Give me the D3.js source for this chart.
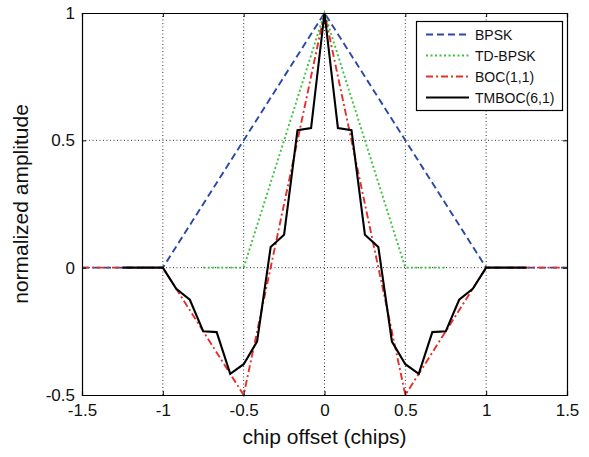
<!DOCTYPE html>
<html><head><meta charset="utf-8">
<script src="https://cdn.jsdelivr.net/npm/d3@7"></script>
<style>body{margin:0;background:#fff}svg{display:block}text{font-family:"Liberation Sans",Arial,sans-serif}</style>
</head><body><svg id="c" width="589" height="457"></svg>
<script>
const xTicks = [-1.5, -1, -0.5, 0, 0.5, 1, 1.5];
const yTicks = [-0.5, 0, 0.5, 1];
const seriesNames = ["BPSK", "TD-BPSK", "BOC(1,1)", "TMBOC(6,1)"];
const bpskX = [-1.5, -1, 0, 1, 1.5];
const bpskY = [0, 0, 1, 0, 0];
const tdX = [-0.75, -0.5, 0, 0.5, 0.75];
const tdY = [0, 0, 1, 0, 0];
const bocX = [-1.5, -1, -0.5, 0, 0.5, 1, 1.5];
const bocY = [0, 0, -0.5, 1, -0.5, 0, 0];
const tmX = [-1.25, -1, -0.917, -0.833, -0.75, -0.667, -0.583, -0.5, -0.417, -0.333, -0.25, -0.167, -0.083, 0,
             0.083, 0.167, 0.25, 0.333, 0.417, 0.5, 0.583, 0.667, 0.75, 0.833, 0.917, 1, 1.25];
const tmY = [0, 0, -0.083, -0.126, -0.25, -0.253, -0.417, -0.379, -0.29, 0.081, 0.129, 0.54, 0.548, 1,
             0.548, 0.54, 0.129, 0.081, -0.29, -0.379, -0.417, -0.253, -0.25, -0.126, -0.083, 0, 0];

const W = 589, H = 457, m = {l: 82, t: 13, r: 22, b: 62};
const svg = d3.select("#c");
const x = d3.scaleLinear().domain([-1.5, 1.5]).range([m.l, W - m.r]);
const y = d3.scaleLinear().domain([-0.5, 1]).range([H - m.b, m.t]);
const g = svg.append("g");
const fmt = d => String(d);

// grid
g.append("g").selectAll("line").data(xTicks.slice(1, -1)).join("line")
  .attr("x1", d => x(d)).attr("x2", d => x(d)).attr("y1", y(-0.5)).attr("y2", y(1))
  .attr("stroke", "#333").attr("stroke-width", 1).attr("stroke-dasharray", "1,2.5");
g.append("g").selectAll("line").data(yTicks.slice(1, -1)).join("line")
  .attr("y1", d => y(d)).attr("y2", d => y(d)).attr("x1", x(-1.5)).attr("x2", x(1.5))
  .attr("stroke", "#333").attr("stroke-width", 1).attr("stroke-dasharray", "1,2.5");

const line = d3.line().x(d => x(d[0])).y(d => y(d[1]));
const zip = (a, b) => a.map((v, i) => [v, b[i]]);
const series = [
  {pts: zip(bpskX, bpskY), color: "#2a48a6", dash: "7,4", w: 1.9},
  {pts: zip(tdX, tdY), color: "#3cc23c", dash: "2,2.5", w: 1.9},
  {pts: zip(bocX, bocY), color: "#e3302a", dash: "7,3,2,3", w: 1.9},
  {pts: zip(tmX, tmY), color: "#000", dash: null, w: 2.1}
];
series.forEach(s => {
  g.append("path").attr("d", line(s.pts)).attr("fill", "none")
    .attr("stroke", s.color).attr("stroke-width", s.w)
    .attr("stroke-dasharray", s.dash).attr("stroke-linejoin", "miter");
});

// axes
g.append("g").attr("transform", `translate(0,${y(-0.5)})`)
  .call(d3.axisBottom(x).tickValues(xTicks).tickSize(-4).tickPadding(9).tickFormat(fmt));
g.append("g").attr("transform", `translate(${x(-1.5)},0)`)
  .call(d3.axisLeft(y).tickValues(yTicks).tickSize(-4).tickPadding(7).tickFormat(fmt));
g.append("g").attr("transform", `translate(0,${y(1)})`)
  .call(d3.axisTop(x).tickValues(xTicks).tickSize(-4).tickFormat(""));
g.append("g").attr("transform", `translate(${x(1.5)},0)`)
  .call(d3.axisRight(y).tickValues(yTicks).tickSize(-4).tickFormat(""));
g.selectAll(".domain").attr("stroke", "#000").attr("stroke-width", 1.2);
g.selectAll(".tick line").attr("stroke", "#000");
g.selectAll(".tick text").attr("font-size", 17).attr("fill", "#111")
  .style("font-family", '"Liberation Sans",Arial,sans-serif');

svg.append("text").attr("x", x(0)).attr("y", 444).attr("text-anchor", "middle")
  .attr("font-size", 21).attr("fill", "#111").text("chip offset (chips)");
svg.append("text").attr("transform", `translate(28,${(y(-0.5) + y(1)) / 2}) rotate(-90)`)
  .attr("text-anchor", "middle").attr("font-size", 21).attr("fill", "#111").text("normalized amplitude");

// legend
const lg = svg.append("g");
lg.append("rect").attr("x", 416.5).attr("y", 21.5).attr("width", 146).attr("height", 89)
  .attr("fill", "#fff").attr("stroke", "#000").attr("stroke-width", 1.2);
series.forEach((s, i) => {
  const yy = 34.5 + i * 21;
  lg.append("line").attr("x1", 426).attr("x2", 469).attr("y1", yy).attr("y2", yy)
    .attr("stroke", s.color).attr("stroke-width", s.w).attr("stroke-dasharray", s.dash);
  lg.append("text").attr("x", 475).attr("y", yy + 5).attr("font-size", 14).attr("fill", "#111").text(seriesNames[i]);
});
</script></body></html>
